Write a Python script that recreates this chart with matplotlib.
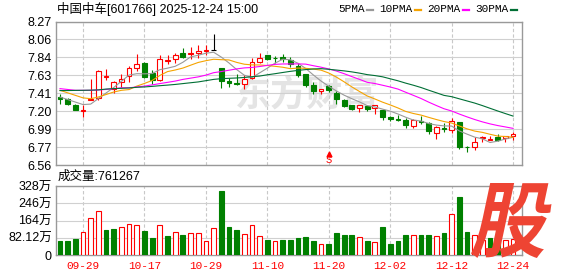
import numpy as np
import matplotlib
matplotlib.use('Agg')
import matplotlib.pyplot as plt
from matplotlib.patches import Rectangle, PathPatch
from matplotlib.lines import Line2D
from matplotlib.textpath import TextPath
from matplotlib.font_manager import FontProperties
from matplotlib.transforms import Affine2D

# daily candles, 2025-09-24 .. 2025-12-24
opens = [7.37, 7.35, 7.28, 7.20, 7.34, 7.36, 7.61, 7.46, 7.55, 7.62,
         7.72, 7.78, 7.66, 7.57, 7.80, 7.82, 7.90, 7.88, 7.89, 7.92,
         7.93, 7.71, 7.56, 7.54, 7.52, 7.60, 7.79, 7.87, 7.84, 7.85,
         7.81, 7.74, 7.64, 7.51, 7.44, 7.50, 7.42, 7.33, 7.27, 7.24,
         7.26, 7.24, 7.21, 7.13, 7.11, 7.10, 7.03, 7.09, 7.06, 6.94,
         7.00, 6.98, 7.07, 6.78, 6.78, 6.88, 6.86, 6.89, 6.88, 6.90]
highs = [7.41, 7.36, 7.29, 7.27, 7.58, 7.69, 7.70, 7.56, 7.64, 7.74,
         7.88, 7.79, 7.69, 7.87, 7.87, 7.89, 7.95, 7.97, 7.99, 7.99,
         8.12, 7.71, 7.60, 7.65, 7.63, 7.84, 7.89, 7.87, 7.86, 7.88,
         7.85, 7.77, 7.65, 7.55, 7.47, 7.51, 7.44, 7.35, 7.28, 7.28,
         7.28, 7.28, 7.22, 7.14, 7.16, 7.12, 7.11, 7.14, 7.07, 7.02,
         7.06, 7.12, 7.07, 6.79, 6.89, 6.91, 6.91, 6.93, 6.91, 6.95]
lows = [7.29, 7.28, 7.21, 7.13, 7.33, 7.33, 7.57, 7.42, 7.49, 7.55,
        7.68, 7.60, 7.52, 7.56, 7.76, 7.77, 7.83, 7.82, 7.83, 7.87,
        7.93, 7.48, 7.49, 7.51, 7.46, 7.58, 7.77, 7.81, 7.78, 7.79,
        7.73, 7.61, 7.49, 7.41, 7.41, 7.43, 7.29, 7.25, 7.22, 7.19,
        7.20, 7.17, 7.10, 7.09, 7.09, 7.00, 7.00, 7.05, 6.93, 6.87,
        6.95, 6.94, 6.75, 6.71, 6.74, 6.83, 6.86, 6.85, 6.84, 6.86]
closes = [7.35, 7.29, 7.22, 7.22, 7.35, 7.68, 7.62, 7.55, 7.59, 7.72,
          7.76, 7.61, 7.57, 7.82, 7.81, 7.87, 7.85, 7.89, 7.92, 7.93,
          7.93, 7.56, 7.54, 7.53, 7.59, 7.79, 7.84, 7.82, 7.83, 7.82,
          7.76, 7.63, 7.51, 7.44, 7.46, 7.45, 7.35, 7.26, 7.23, 7.27,
          7.23, 7.27, 7.13, 7.11, 7.10, 7.04, 7.10, 7.07, 6.96, 7.01,
          6.99, 7.09, 6.78, 6.77, 6.83, 6.89, 6.87, 6.86, 6.90, 6.93]
prev_close = 7.37

# volume in 万 (10k)
volumes = [66.6, 66.6, 76.2, 107.9, 174.6, 207.9, 119.0, 123.8, 131.7, 146.0,
           141.2, 114.3, 80.9, 141.2, 90.5, 107.9, 95.2, 103.1, 103.1, 65.1,
           127.0, 304.7, 133.3, 119.0, 98.4, 141.2, 88.9, 71.4, 65.1, 71.4,
           71.4, 80.9, 84.1, 66.6, 52.4, 52.4, 106.3, 95.2, 95.2, 84.1,
           66.6, 61.9, 133.3, 52.4, 66.6, 95.2, 95.2, 95.2, 95.2, 90.5,
           106.3, 195.2, 277.7, 111.1, 95.0, 71.4, 80.0, 70.0, 71.4, 76.1267]

# moving-average values before a full window exists
ma5_head = [7.37, 7.34, 7.31, 7.28]
ma10_head = [7.45, 7.42, 7.39, 7.36, 7.35, 7.37, 7.40, 7.43, 7.45]
ma20_head = [7.47, 7.46, 7.45, 7.45, 7.45, 7.455, 7.46, 7.47, 7.48, 7.48,
             7.49, 7.50, 7.515, 7.53, 7.545, 7.56, 7.58, 7.595, 7.61]
ma30_head = [7.447, 7.447, 7.449, 7.45, 7.452, 7.455, 7.465, 7.47, 7.474, 7.478,
             7.486, 7.49, 7.497, 7.505, 7.512, 7.52, 7.53, 7.54, 7.55, 7.565,
             7.58, 7.589, 7.593, 7.597, 7.603, 7.612, 7.62, 7.635, 7.648]

date_idx = [3, 11, 19, 27, 35, 43, 51, 59]
date_labels = ['09-29', '10-17', '10-29', '11-10', '11-20', '12-02', '12-12', '12-24']
price_labels = ['6.56', '6.77', '6.99', '7.20', '7.41', '7.63', '7.84', '8.06', '8.27']
vol_labels = ['0', '82.12万', '164万', '246万', '328万']
signal_idx = 35

W, H = 578, 276
RED = '#ff0000'
GREEN = '#008000'
plt.rcParams['font.family'] = ['Liberation Sans', 'Noto Sans CJK SC']


def moving_avg(vals, n, head):
    out = list(head)
    for i in range(len(head), len(vals)):
        out.append(np.mean(vals[i - n + 1:i + 1]))
    return out


fig = plt.figure(figsize=(W / 100, H / 100), dpi=100)


def px_axes(x0, y0, x1, y1):
    return fig.add_axes([x0 / W, 1 - y1 / H, (x1 - x0) / W, (y1 - y0) / H])


ax = px_axes(56, 21.5, 522, 165)
axv = px_axes(56, 186, 522, 255)

xs = np.arange(len(closes))
w = 0.62

# candles
for i in xs:
    o, h, l, c = opens[i], highs[i], lows[i], closes[i]
    if c > o:
        col, face = RED, 'white'
    elif c < o:
        col, face = GREEN, GREEN
    else:
        col, face = 'black', 'black'
    ax.vlines(i, l, h, color=col, lw=0.8, zorder=2)
    if c == o:
        ax.hlines(c, i - w / 2, i + w / 2, color=col, lw=0.8, zorder=3)
    else:
        ax.add_patch(Rectangle((i - w / 2, min(o, c)), w, abs(c - o),
                               facecolor=face, edgecolor=col, lw=0.8, zorder=3))

# moving averages
ma_specs = [(5, ma5_head, '#999999'), (10, ma10_head, '#f5a300'),
            (20, ma20_head, '#ff00ff'), (30, ma30_head, '#006f35')]
for n, head, col in ma_specs:
    ax.plot(xs, moving_avg(closes, n, head), color=col, lw=0.8, zorder=4)

# volume bars, coloured by change from previous close
prevs = [prev_close] + closes[:-1]
for i in xs:
    if closes[i] >= prevs[i]:
        axv.add_patch(Rectangle((i - w / 2, 0), w, volumes[i], facecolor='white',
                                edgecolor=RED, lw=0.8, zorder=3))
    else:
        axv.add_patch(Rectangle((i - w / 2, 0), w, volumes[i], facecolor=GREEN,
                                edgecolor=GREEN, lw=0.8, zorder=3))

for a in (ax, axv):
    a.set_xlim(-0.52, 60.16)
    a.set_xticks(date_idx)
    a.grid(axis='y', color='#d0d0d0', lw=0.8, ls='-')
    a.grid(axis='x', color='#c8c8c8', lw=0.8, ls=(0, (3, 2)))
    a.set_axisbelow(True)
    a.tick_params(length=0, pad=3, labelsize=9)
    for s in a.spines.values():
        s.set_color('#999999')
        s.set_linewidth(1)

ax.set_ylim(6.56, 8.27)
ax.set_yticks(np.linspace(6.56, 8.27, 9))
ax.set_yticklabels(price_labels)
ax.set_xticklabels([])

axv.set_ylim(0, 328.48)
axv.set_yticks(np.linspace(0, 328.48, 5))
axv.set_yticklabels(vol_labels)
axv.set_xticklabels(date_labels, family='Liberation Mono', fontsize=8, color=RED)
axv.tick_params(axis='x', pad=4)

# B/S signal mark
ax.plot(signal_idx, 0.08, marker='^', color=RED, ms=3.5, transform=ax.get_xaxis_transform(), zorder=5)
ax.text(signal_idx, 0.035, 'S', color=RED, fontsize=7.5, family='Liberation Mono',
        ha='center', va='center', transform=ax.get_xaxis_transform(), zorder=5)

# watermark
ax.text(0.54, 0.49, '东方财富', transform=ax.transAxes, fontsize=26, color='#e4e4e4',
        family='Noto Sans CJK SC', weight='bold', ha='center', va='center', zorder=0.3)

# titles
fig.text(57 / W, 1 - 9.5 / H, '中国中车[601766] 2025-12-24 15:00', fontsize=9, va='center')
fig.text(58 / W, 1 - 177 / H, '成交量:%d' % round(volumes[-1] * 10000), fontsize=9, va='center')

# MA legend
renderer = fig.canvas.get_renderer()
x = 338
for n, head, col in ma_specs:
    t = fig.text(x / W, 1 - 9.5 / H, '%dPMA' % n, fontsize=8, family='Liberation Mono',
                 va='center', color='black')
    bb = t.get_window_extent(renderer)
    fig.add_artist(Line2D([(bb.x1 + 2) / W, (bb.x1 + 8) / W], [1 - 9.5 / H, 1 - 9.5 / H],
                          transform=fig.transFigure, color=col, lw=1.6))
    x = bb.x1 + 15

# red corner logo
fp = FontProperties(family='Noto Sans CJK SC', weight='bold')
tp = TextPath((0, 0), '股', size=100, prop=fp)
gb = tp.get_extents()
gh = 75
gw = 88 - np.tan(np.radians(12)) * gh
tr = (Affine2D().translate(-gb.x0, -gb.y0).scale(gw / gb.width, gh / gb.height)
      .skew_deg(12, 0).translate(470, H - 258).scale(1 / W, 1 / H) + fig.transFigure)
fig.add_artist(PathPatch(tp, facecolor='#ee4433', edgecolor='none', transform=tr, zorder=10))

fig.savefig('out.png', dpi=100)
